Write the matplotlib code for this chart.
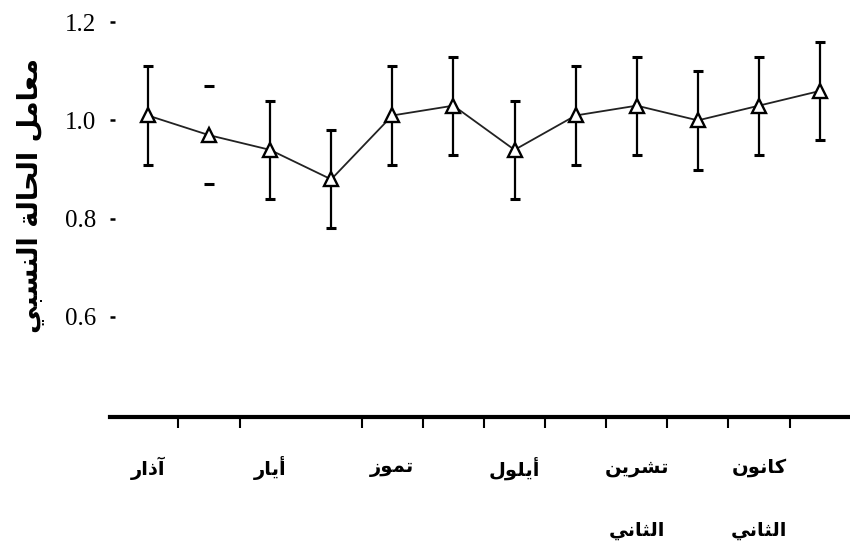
import matplotlib
matplotlib.use("Agg")
import matplotlib.pyplot as plt

# Relative condition factor, monthly means with error bars (March .. February)
months_idx = list(range(12))
condition_factor = [1.01, 0.97, 0.94, 0.88, 1.01, 1.03, 0.94, 1.01, 1.03, 1.00, 1.03, 1.06]
error = [0.10, 0.10, 0.10, 0.10, 0.10, 0.10, 0.10, 0.10, 0.10, 0.10, 0.10, 0.10]
label_positions = [0, 2, 4, 6, 8, 10]
month_labels = ["آذار", "أيار", "تموز", "أيلول", "تشرين\nالثاني", "كانون\nالثاني"]
y_ticks = [0.6, 0.8, 1.0, 1.2]
y_label = "معامل الحالة النسبي"
tick_marks = [0.5, 1.5, 3.5, 4.5, 5.5, 6.5, 7.5, 8.5, 9.5, 10.5]

# Minimal Arabic contextual shaping (presentation forms) + visual reordering
_RIGHT_JOIN = {'\u0627': 0xFE8D, '\u0622': 0xFE81, '\u0623': 0xFE83, '\u0629': 0xFE93,
               '\u0630': 0xFEAB, '\u0631': 0xFEAD, '\u0632': 0xFEAF, '\u0648': 0xFEED}
_DUAL_JOIN = {'\u0628': 0xFE8F, '\u062A': 0xFE95, '\u062B': 0xFE99, '\u062D': 0xFEA1,
              '\u0633': 0xFEB1, '\u0634': 0xFEB5, '\u0639': 0xFEC9, '\u0643': 0xFED9,
              '\u0644': 0xFEDD, '\u0645': 0xFEE1, '\u0646': 0xFEE5, '\u064A': 0xFEF1}


def shape_arabic(text):
    out = []
    for i, ch in enumerate(text):
        base = _DUAL_JOIN.get(ch, _RIGHT_JOIN.get(ch))
        if base is None:
            out.append(ch)
            continue
        prev = text[i - 1] if i > 0 else ''
        nxt = text[i + 1] if i + 1 < len(text) else ''
        joins_prev = prev in _DUAL_JOIN
        joins_next = ch in _DUAL_JOIN and (nxt in _DUAL_JOIN or nxt in _RIGHT_JOIN)
        if joins_prev and joins_next:
            form = 3
        elif joins_prev:
            form = 1
        elif joins_next:
            form = 2
        else:
            form = 0
        out.append(chr(base + form))
    return ''.join(reversed(out))


fig = plt.figure(figsize=(8.5, 5.45), dpi=100)
ax = fig.add_axes([110 / 850, 1 - 416.7 / 545, 740 / 850, 416.7 / 545])

eb = ax.errorbar(months_idx, condition_factor, yerr=error, fmt='none',
                 ecolor='black', elinewidth=1.6, capsize=3.5, capthick=2.2, zorder=2)
# the bar for the second month shows only its caps
eb.lines[2][0].set_linewidths([1.6, 0, 1.6, 1.6, 1.6, 1.6, 1.6, 1.6, 1.6, 1.6, 1.6, 1.6])

ax.plot(months_idx, condition_factor, color='#222222', lw=1.3, zorder=3,
        marker='^', markersize=9.5, markerfacecolor='white',
        markeredgecolor='black', markeredgewidth=1.7)

ax.set_xlim(-0.62, 11.49)
ax.set_ylim(0.397, 1.245)

for side in ('left', 'right', 'top'):
    ax.spines[side].set_visible(False)
ax.spines['bottom'].set_linewidth(3)

ax.set_xticks(tick_marks)
ax.set_xticklabels([])
ax.tick_params(axis='x', direction='out', length=8, width=1.5, color='black')

ax.set_yticks(y_ticks)
ax.set_yticklabels([f"{v:.1f}" for v in y_ticks], family='Liberation Serif', fontsize=18)
ax.tick_params(axis='y', direction='in', length=3.5, width=1.8, pad=10, color='black')

arabic_font = ['DejaVu Sans']
trans = ax.get_xaxis_transform()
for pos, lab in zip(label_positions, month_labels):
    for k, line in enumerate(lab.split('\n')):
        ax.text(pos, -0.123 - 0.151 * k, shape_arabic(line), transform=trans,
                ha='center', va='center', fontsize=14, fontweight='bold',
                family=arabic_font)

fig.text(30 / 850, 1 - 195 / 545, shape_arabic(y_label), rotation=90,
         ha='center', va='center', fontsize=19.5, fontweight='bold', family=arabic_font)

fig.savefig('out.png', dpi=100, facecolor='white')
